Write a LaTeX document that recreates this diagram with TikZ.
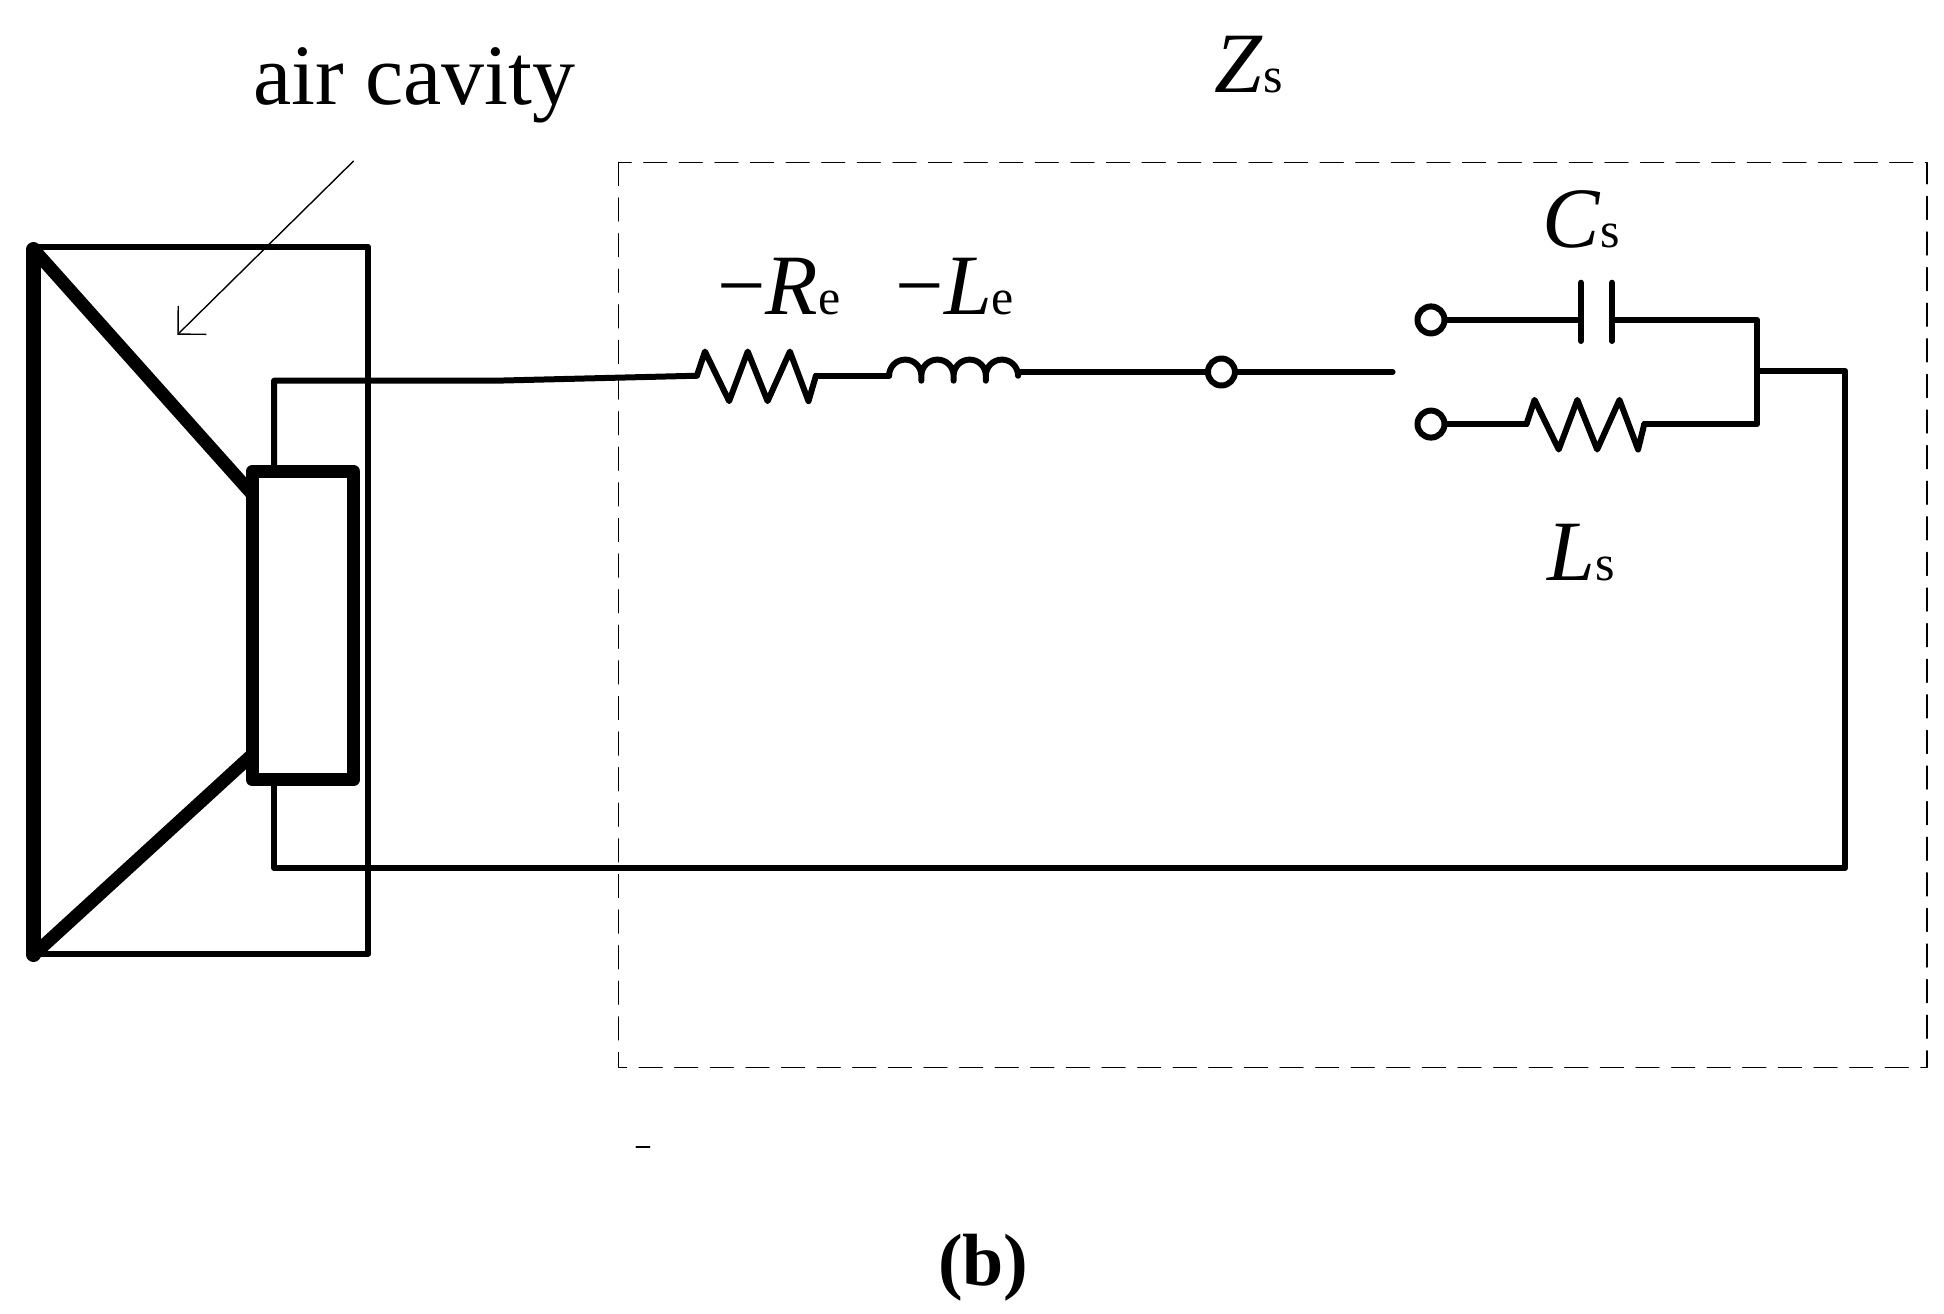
\documentclass[tikz,border=0pt]{standalone}
\usepackage{fontspec}
\setmainfont{Liberation Serif}
\usetikzlibrary{arrows.meta}

\newcommand{\quant}[2]{\textit{#1}{\fontsize{25}{25}\selectfont #2}}

\begin{document}
\begin{tikzpicture}[
      x=0.62pt, y=-0.62pt,
      line join=round, line cap=round,
      every node/.style = {inner sep=0pt, align=center, font=\fontsize{43}{47}\selectfont},
      wire/.style       = {draw, line width=3pt},
      cone/.style       = {draw, line width=6.5pt},
      terminal/.style   = {circle, draw, fill=white, line width=3pt, minimum size=13.5pt},
      box/.style        = {draw, line width=0.7pt, dash pattern=on 11.5pt off 6.3pt},
      resistor/.style   = {wire, to path={-- ++(6.5,-19.5) -- ++(19.5,40) -- ++(15,-40) -- ++(16,40) -- ++(18,-40) -- ++(15,40) -- (\tikztotarget)}},
      inductor/.style   = {wire, to path={
        arc[start angle=180, end angle=360, radius=13] -- ++(0,4) -- ++(0,-4)
        arc[start angle=180, end angle=360, radius=13] -- ++(0,4) -- ++(0,-4)
        arc[start angle=180, end angle=360, radius=13] -- ++(0,4) -- ++(0,-4)
        arc[start angle=180, end angle=360, radius=13] -- (\tikztotarget)}}
    ]
    \useasboundingbox (0,0) rectangle (1567.7,1059.6);

    % speaker
    \coordinate (cabtl)  at (27,199);
    \coordinate (cabbr)  at (297,769);
    \coordinate (frontt) at (27,201);
    \coordinate (frontb) at (27,770);
    \coordinate (coneur) at (203,398);
    \coordinate (coneir) at (203,609);
    \coordinate (magtl)  at (203.5,380);
    \coordinate (magbr)  at (285,629);
    \draw[wire] (cabtl) rectangle (cabbr);
    \draw[cone, line width=7.2pt] (frontt) -- (frontb);
    \draw[cone] (frontt) -- (coneur);
    \draw[cone] (frontb) -- (coneir);
    \draw[cone] (magtl) rectangle (magbr);

    % circuit points
    \coordinate (vctop) at (221,380);
    \coordinate (vcup)  at (221,307);
    \coordinate (vcbend) at (400,307);
    \coordinate (vcdn)  at (221,700);
    \coordinate (vcbot) at (221,629);
    \coordinate (rein)  at (562,303);
    \coordinate (reout) at (658,303);
    \coordinate (lein)  at (717,303);
    \coordinate (leout) at (821,300);
    \coordinate (swfree) at (1123,300);
    \coordinate (junct)  at (1417,299);
    \coordinate (retop)  at (1488,299);
    \coordinate (rebot)  at (1488,700);
    \coordinate (cupr)   at (1417,258);
    \coordinate (clwr)   at (1417,342);
    \coordinate (lsin)   at (1231,342);
    \coordinate (lsout)  at (1326,342);

    \node (common) [terminal] at (985,300)   {};
    \node (upper)  [terminal] at (1154,258)  {};
    \node (lower)  [terminal] at (1154,342)  {};

    \coordinate (plateat) at (1275,228);
    \coordinate (platean) at (1275,275);
    \coordinate (platebt) at (1300,228);
    \coordinate (platebn) at (1300,275);
    \coordinate (platea)  at (1275,258);
    \coordinate (plateb)  at (1300,258);

    \draw[wire]     (vctop) -- (vcup) -- (vcbend) -- (rein);
    \draw[resistor] (rein)  to (reout);
    \draw[wire]     (reout) -- (lein);
    \draw[inductor] (lein)  to (leout);
    \draw[wire]     (leout) -- (common);
    \draw[wire]     (common) -- (swfree);
    \draw[wire]     (upper) -- (platea);
    \draw[wire]     (plateat) -- (platean);
    \draw[wire]     (platebt) -- (platebn);
    \draw[wire]     (plateb) -- (cupr) -- (clwr) -- (lsout);
    \draw[resistor] (lsin)  to (lsout);
    \draw[wire]     (lsin)  -- (lower);
    \draw[wire]     (junct) -- (retop) -- (rebot) -- (vcdn) -- (vcbot);

    % impedance box
    \coordinate (boxtl) at (499,131);
    \coordinate (boxbr) at (1554,861);
    \draw[box] (boxtl) rectangle (boxbr);

    % labels
    \node (cavity) at (334,69)  {air cavity};
    \node (zs)     at (1007,52) {\quant{Z}{s}};
    \node (re)     at (628,231) {−\quant{R}{e}};
    \node (le)     at (770,231) {−\quant{L}{e}};
    \node (cs)     at (1275,177) {\quant{C}{s}};
    \node (ls)     at (1275,446) {\quant{L}{s}};
    \node (caption) at (793,1022) {\fontsize{37}{41}\selectfont\bfseries (b)};

    \coordinate (cavtail) at (285,130);
    \coordinate (cavhead) at (143,270);
    \draw[line width=0.7pt, -{Straight Barb[length=10pt,width=20pt,line width=0.7pt]}] (cavtail) -- (cavhead);

    \coordinate (marka) at (513,925);
    \coordinate (markb) at (524,925);
    \draw[line width=0.7pt] (marka) -- (markb);
  \end{tikzpicture}
\end{document}
